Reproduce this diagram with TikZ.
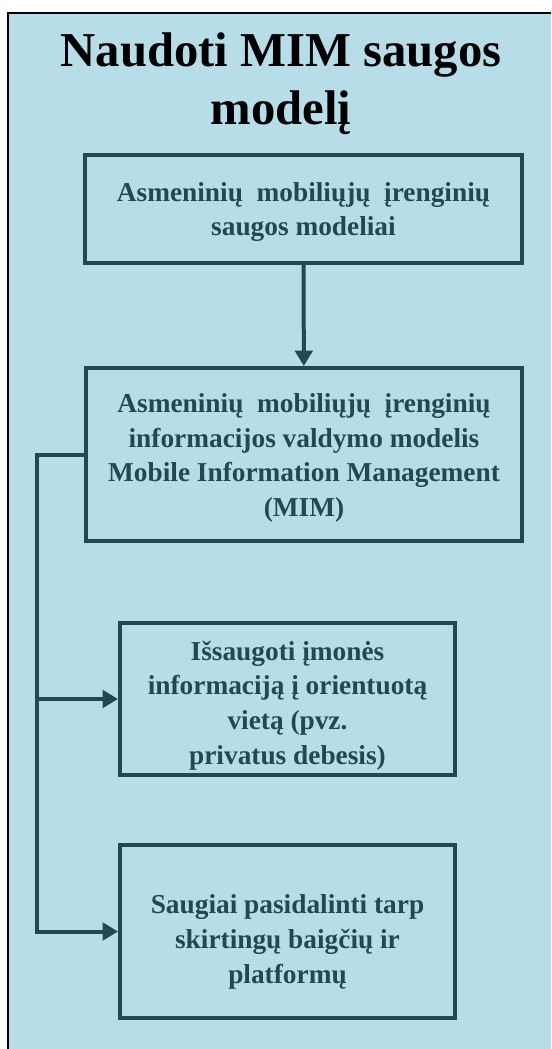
\documentclass[tikz,border=0pt]{standalone}
\usepackage{fontspec}
\setmainfont{Liberation Serif}
\usetikzlibrary{arrows.meta}
\definecolor{panel}{HTML}{B7DEE8}
\definecolor{ink}{HTML}{1F4A55}
\begin{document}
\begin{tikzpicture}[x=0.75pt,y=-0.75pt,
  box/.style={draw=ink, line width=3pt, rectangle, inner sep=0pt,
    align=center, text=ink, font=\bfseries\fontsize{20.5}{26}\selectfont},
  rail/.style={draw=ink, line width=3pt},
  link/.style={rail, -{Triangle[length=11.5pt,width=13pt]}}]
\useasboundingbox (0,0) rectangle (551,1049);
% page and panel
\fill[white] (0,0) rectangle (551,1049);
\fill[panel] (8,13) rectangle (551,1049);
\draw[line width=0.9pt] (551,13) -- (8,13) -- (8,1049);
% heading
\node[font=\bfseries\fontsize{36.5}{43.5}\selectfont, align=center, inner sep=0pt]
  (title) at (281,84) {Naudoti MIM saugos\\modelį};
% boxes
\node[box, minimum width=327.75pt, minimum height=81pt] (b1) at (303.5,209)
  {\rule{0pt}{19pt}Asmeninių\ \ mobiliųjų\ \ įrenginių\\saugos modeliai};
\node[box, minimum width=327pt, minimum height=129.75pt] (b2) at (304,454.5)
  {\rule{0pt}{19.5pt}Asmeninių\ \ mobiliųjų\ \ įrenginių\\informacijos valdymo modelis\\Mobile Information Management\\(MIM)};
\node[box, minimum width=251.25pt, minimum height=114pt] (b3) at (287.5,699)
  {\rule{0pt}{24pt}Išsaugoti įmonės\\informaciją į orientuotą\\vietą (pvz.\\privatus debesis)};
\node[box, minimum width=251.25pt, minimum height=129.75pt] (b4) at (287.5,931.5)
  {\rule{0pt}{30pt}Saugiai pasidalinti tarp\\skirtingų baigčių ir\\platformų};
% connectors
\coordinate (railtop) at (37,454.5);
\draw[link] (b1) -- (b2);
\draw[link] (b2.west) -- (railtop) |- (b4.west);
\draw[link] (railtop |- b3.west) -- (b3.west);
\end{tikzpicture}
\end{document}
